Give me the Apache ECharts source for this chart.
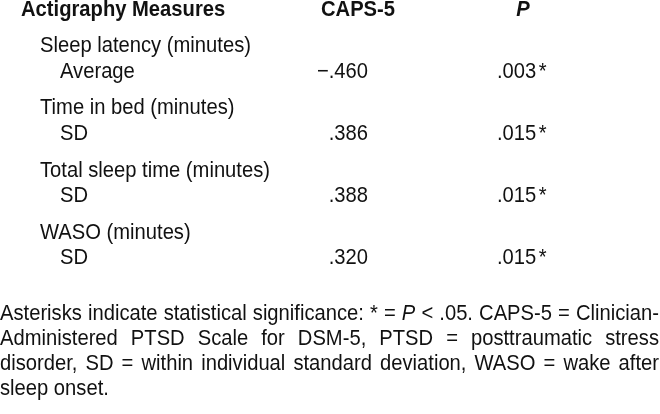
<!DOCTYPE html>
<html>
<head>
<meta charset="utf-8">
<script src="https://cdn.jsdelivr.net/npm/echarts@6/dist/echarts.min.js"></script>
<style>
html,body{margin:0;padding:0;background:#fff;}
#chart{width:660px;height:414px;}
</style>
</head>
<body>
<div id="chart"></div>
<script>
// ---- data ----
const headers = ['Actigraphy Measures', 'CAPS-5', 'P'];
const measures = ['Sleep latency (minutes)', 'Time in bed (minutes)', 'Total sleep time (minutes)', 'WASO (minutes)'];
const statistics = ['Average', 'SD', 'SD', 'SD'];
const caps5 = [-0.460, 0.386, 0.388, 0.320];
const pValues = [0.003, 0.015, 0.015, 0.015];
const alpha = 0.05;
const footnoteLines = [
  ['Asterisks', 'indicate', 'statistical', 'significance:', '*', '=', {t: 'P', italic: true}, '<', '.05.', 'CAPS-5', '=', 'Clinician-'],
  ['Administered', 'PTSD', 'Scale', 'for', 'DSM-5,', 'PTSD', '=', 'posttraumatic', 'stress'],
  ['disorder,', 'SD', '=', 'within', 'individual', 'standard', 'deviation,', 'WASO', '=', 'wake', 'after'],
  ['sleep', 'onset.']
];

// ---- layout ----
const FONT = '"Liberation Sans", Arial, sans-serif';
const SIZE = 20.2;
const SCALE_Y = 1.09;
const COLOR = '#111';
const measureCanvas = document.createElement('canvas').getContext('2d');
function textWidth(s, italic, bold) {
  measureCanvas.font = (italic ? 'italic ' : '') + (bold ? 'bold ' : '') + SIZE + 'px ' + FONT;
  return measureCanvas.measureText(s).width;
}
function fmt(v) {
  return (v < 0 ? '\u2212' : '') + Math.abs(v).toFixed(3).replace(/^0/, '');
}
function txt(x, y, s, opt) {
  opt = opt || {};
  return {
    type: 'text', x: x, y: y, scaleY: SCALE_Y, silent: true,
    style: {
      text: s, fill: COLOR,
      font: (opt.italic ? 'italic ' : '') + (opt.bold ? 'bold ' : '') + SIZE + 'px ' + FONT,
      align: opt.align || 'left', verticalAlign: 'middle'
    }
  };
}

const els = [];
// header
els.push(txt(21, 10, headers[0], {bold: true}));
els.push(txt(358, 10, headers[1], {bold: true, align: 'center'}));
els.push(txt(523, 10, headers[2], {bold: true, italic: true, align: 'center'}));

// rows
const groupTop = 46, groupStep = 62.3, subOffset = 25.5;
measures.forEach(function (m, i) {
  const gy = groupTop + i * groupStep;
  const sy = gy + subOffset;
  els.push(txt(40, gy, m));
  els.push(txt(60, sy, statistics[i]));
  els.push(txt(368, sy, fmt(caps5[i]), {align: 'right'}));
  els.push(txt(497, sy, fmt(pValues[i])));
  if (pValues[i] < alpha) {
    els.push(txt(497 + textWidth(fmt(pValues[i])) + 2.5, sy, '*'));
  }
});

// footnote (justified)
const footTop = 314, footStep = 25, footRight = 659;
footnoteLines.forEach(function (line, li) {
  const y = footTop + li * footStep;
  const toks = line.map(function (t) { return typeof t === 'string' ? {t: t, italic: false} : t; });
  const widths = toks.map(function (t) { return textWidth(t.t, t.italic); });
  const total = widths.reduce(function (a, b) { return a + b; }, 0);
  const last = li === footnoteLines.length - 1;
  const gap = last ? textWidth(' ') : (footRight - total) / (toks.length - 1);
  let x = 0;
  toks.forEach(function (t, k) {
    els.push(txt(x, y, t.t, {italic: t.italic}));
    x += widths[k] + gap;
  });
});

const chart = echarts.init(document.getElementById('chart'), null, {renderer: 'canvas'});
chart.setOption({
  backgroundColor: '#fff',
  animation: false,
  graphic: {elements: els}
});
</script>
</body>
</html>
